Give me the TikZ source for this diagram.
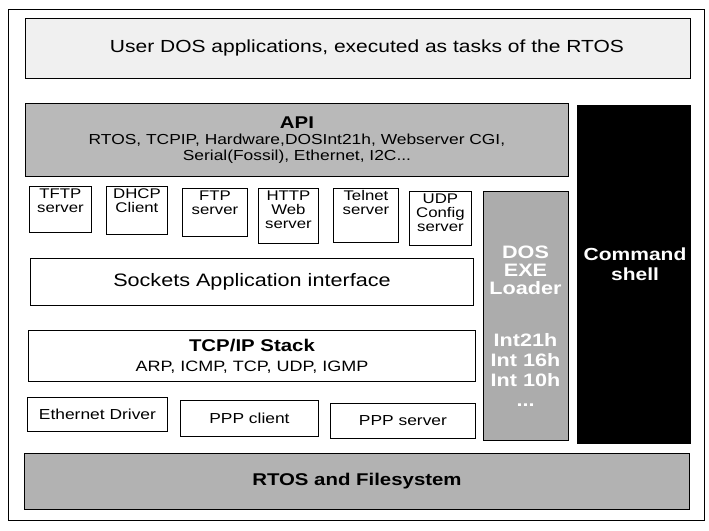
\documentclass[tikz,border=0pt]{standalone}
\usepackage{fontspec}
\setmainfont{Liberation Sans}[FakeStretch=1.2]
\usetikzlibrary{positioning}
\newcommand{\stk}[1]{\begin{tabular}[t]{@{}c@{}}#1\end{tabular}}

\begin{document}
\begin{tikzpicture}[x=1pt, y=-1pt,
  layer/.style={draw=black, line width=0.9pt, inner sep=2pt, align=center, anchor=north west},
  svc/.style={layer, fill=white, text height=10pt, font=\fontsize{14}{14}\selectfont},
  drv/.style={layer, fill=white, font=\fontsize{14.5}{16}\selectfont},
  txt/.style={inner sep=0pt, align=center, anchor=north, text=white}]
\useasboundingbox (0,0) rectangle (709,530);
\draw[line width=0.8pt] (8,9) rectangle (704,520);

% upper layers
\node[layer, fill=gray!12, minimum width=665, minimum height=60, font=\fontsize{17.5}{20}\selectfont] (user) at (25,18) {\hspace{18pt}User DOS applications, executed as tasks of the RTOS};
\node[layer, fill=gray!55, minimum width=543, minimum height=73, font=\fontsize{14.5}{16}\selectfont] (api) at (25,103) {{\bfseries\fontsize{17}{18}\selectfont API}\\RTOS, TCPIP, Hardware,DOSInt21h, Webserver CGI,\\Serial(Fossil), Ethernet, I2C...};

% right columns
\node[layer, fill=black, minimum width=113, minimum height=338] (cmd) at (577,105) {};
\node[txt, font=\bfseries\fontsize{17.5}{20}\selectfont] (cmdlabel) at (635,248) {Command\\shell};
\node[layer, fill=gray!65, minimum width=85, minimum height=249] (dos) at (483,191) {};
\node[txt, font=\bfseries\fontsize{18}{18}\selectfont] (doslabel) at (525.5,246) {DOS\\EXE\\Loader};
\node[txt, font=\bfseries\fontsize{18}{20}\selectfont] (intlabel) at (525.5,333) {Int21h\\Int 16h\\Int 10h\\...};

% servers
\foreach \n/\x/\y/\w/\h/\t in {
  tftp/29/186/62/46/{TFTP\\server},
  dhcp/106/186/61/48/{DHCP\\Client},
  ftp/182/188/65/48/{FTP\\server},
  http/258/188/60/55/{HTTP\\Web\\server},
  telnet/333/188/65/54/{Telnet\\server},
  udp/409/191/62/54/{UDP\\Config\\server}}
{
  \pgfmathsetmacro{\svcdepth}{\h-14}
  \node[svc, minimum width=\w, text depth=\svcdepth pt] (\n) at (\x,\y) {\stk{\t}};
}

% stack
\node[layer, fill=white, minimum width=443, minimum height=47, font=\fontsize{18}{20}\selectfont] (sock) at (30,258) {Sockets Application interface};
\node[layer, fill=white, minimum width=447, minimum height=51, font=\fontsize{15}{20}\selectfont] (tcp) at (28,330) {{\bfseries\fontsize{17}{19}\selectfont TCP/IP Stack}\\ARP, ICMP, TCP, UDP, IGMP};
\node[drv, minimum width=140, minimum height=34] (eth) at (27,397) {Ethernet Driver};
\node[drv, minimum width=138, minimum height=36] (pppc) at (180,400) {PPP client};
\node[drv, minimum width=145, minimum height=35] (ppps) at (330,403) {PPP server};

% bottom
\node[layer, fill=gray!60, minimum width=665, minimum height=56, font=\bfseries\fontsize{17}{20}\selectfont] (rtos) at (24,453) {RTOS and Filesystem};
\end{tikzpicture}
\end{document}
